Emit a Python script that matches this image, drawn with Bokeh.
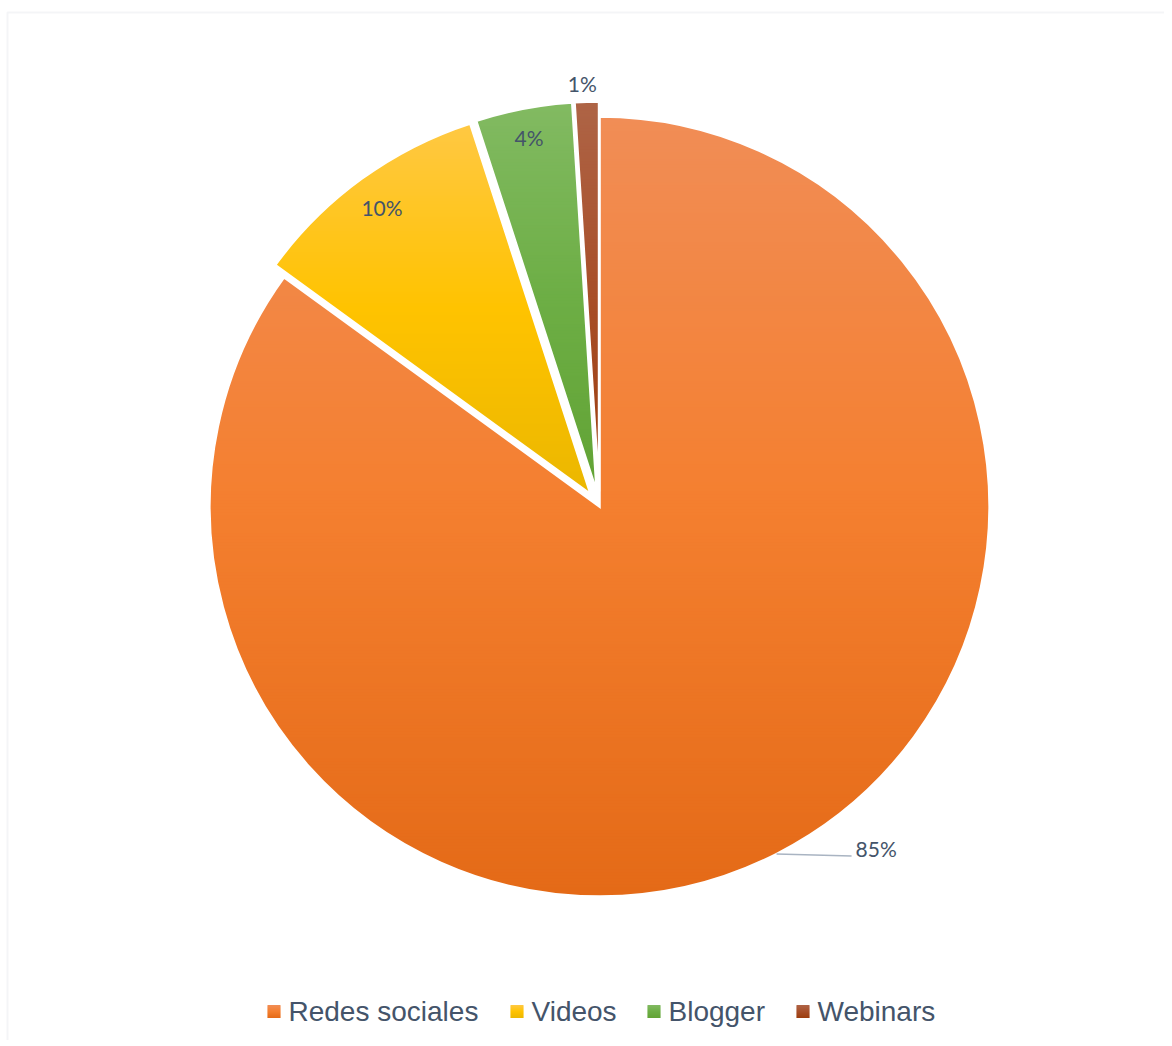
import numpy as np
from bokeh.plotting import figure
from bokeh.models import Range1d, BoxAnnotation
from bokeh.core.properties import value
from bokeh.embed import file_html
from bokeh.resources import INLINE

# ---------------- data ----------------
categories = ["Redes sociales", "Videos", "Blogger", "Webinars"]
shares = [85, 10, 4, 1]
labels = ["85%", "10%", "4%", "1%"]

# gradient colours (top, middle, bottom) per slice
colors_top = ["#F18D56", "#FFC843", "#82BA62", "#AE6446"]
colors_mid = ["#F47F2F", "#FFC300", "#6DAE45", "#A84F29"]
colors_bot = ["#E46A17", "#EBB700", "#62A335", "#9C3D0D"]

# ---------------- layout / style ----------------
W, H = 1164, 1040
CX, CY, R = 599, H - 506, 390
explode = [0, 15, 15, 15]
label_r = [None, 355, 361, 408]
label_dx = [0, 0, 0, -4]
TEXT = "#44546A"
LEGEND_Y = H - 1011
legend_x = [267, 510, 647, 796]

p = figure(width=W, height=H, output_backend="svg", toolbar_location=None,
           x_range=Range1d(0, W), y_range=Range1d(0, H), min_border=0)
p.axis.visible = False
p.grid.visible = False
p.outline_line_color = None
p.background_fill_color = "white"
p.border_fill_color = "white"

p.add_layout(BoxAnnotation(left=7, right=5000, top=H - 12, bottom=-5000,
                           fill_alpha=0, line_color="#D9DDE3", line_width=2))


def hex2rgb(h):
    h = h.lstrip("#")
    return np.array([int(h[i:i + 2], 16) for i in (0, 2, 4)], dtype=float)


def grad(f, top, mid, bot):
    t, m, b = hex2rgb(top), hex2rgb(mid), hex2rgb(bot)
    if f < 0.5:
        c = t + (m - t) * (f / 0.5)
    else:
        c = m + (b - m) * ((f - 0.5) / 0.5)
    return "#%02x%02x%02x" % tuple(int(round(v)) for v in c)


def clip(pts, y0, keep_above):
    out = []
    n = len(pts)
    for i in range(n):
        a = pts[i]
        b = pts[(i + 1) % n]
        ina = a[1] >= y0 if keep_above else a[1] <= y0
        inb = b[1] >= y0 if keep_above else b[1] <= y0
        if inb:
            if not ina:
                t = (y0 - a[1]) / (b[1] - a[1])
                out.append((a[0] + t * (b[0] - a[0]), y0))
            out.append(b)
        elif ina:
            t = (y0 - a[1]) / (b[1] - a[1])
            out.append((a[0] + t * (b[0] - a[0]), y0))
    return out


def gradient_patches(pts, top, mid, bot, band=3.0, overlap=0.8):
    ys = [q[1] for q in pts]
    ymin, ymax = min(ys), max(ys)
    xs_out, ys_out, cols = [], [], []
    y = ymax
    while y > ymin:
        y1 = max(y - band, ymin)
        poly = clip(clip(pts, max(y1 - overlap, ymin), True), y, False)
        if len(poly) >= 3:
            f = (ymax - (y + y1) / 2) / (ymax - ymin)
            xs_out.append([q[0] for q in poly])
            ys_out.append([q[1] for q in poly])
            cols.append(grad(f, top, mid, bot))
        y = y1
    return xs_out, ys_out, cols


total = float(sum(shares))
cum = np.concatenate([[0], np.cumsum(shares)]) / total * 2 * np.pi
all_xs, all_ys, all_cols = [], [], []
centers = []
for i, s in enumerate(shares):
    a0, a1 = cum[i], cum[i + 1]
    mid = (a0 + a1) / 2
    cx = CX + explode[i] * np.sin(mid)
    cy = CY + explode[i] * np.cos(mid)
    centers.append((cx, cy, a0, a1, mid))
    n = max(int(np.degrees(a1 - a0)), 2) * 2
    ts = np.linspace(a0, a1, n)
    pts = [(cx, cy)] + [(cx + R * np.sin(t), cy + R * np.cos(t)) for t in ts]
    xs, ys, cols = gradient_patches(pts, colors_top[i], colors_mid[i], colors_bot[i])
    all_xs += xs
    all_ys += ys
    all_cols += cols

p.patches(all_xs, all_ys, fill_color=all_cols, line_color=None)

# white slice borders
p.wedge(x=[c[0] for c in centers], y=[c[1] for c in centers], radius=R,
        start_angle=[np.pi / 2 - c[2] for c in centers],
        end_angle=[np.pi / 2 - c[3] for c in centers],
        direction="clock", fill_color=None, line_color="white", line_width=2.5,
        line_join="miter")

# data labels
for i, c in enumerate(centers):
    cx, cy, a0, a1, mid = c
    if label_r[i] is None:
        ax = cx + R * np.sin(mid)
        ay = cy + R * np.cos(mid)
        p.line([ax, ax + 75], [ay, ay - 2], line_color="#A9B4C2", line_width=1.5)
        p.text(x=[ax + 79], y=[ay + 5], text=[labels[i]], text_font=value("Lato"),
               text_font_size="21px", text_color=TEXT, text_align="left",
               text_baseline="middle")
    else:
        lx = cx + label_r[i] * np.sin(mid) + label_dx[i]
        ly = cy + label_r[i] * np.cos(mid)
        p.text(x=[lx], y=[ly], text=[labels[i]], text_font=value("Lato"),
               text_font_size="21px", text_color=TEXT, text_align="center",
               text_baseline="middle")

# legend
lg_xs, lg_ys, lg_cols = [], [], []
for i, name in enumerate(categories):
    x0 = legend_x[i]
    sq = [(x0, LEGEND_Y + 6.5), (x0 + 13, LEGEND_Y + 6.5),
          (x0 + 13, LEGEND_Y - 6.5), (x0, LEGEND_Y - 6.5)]
    xs, ys, cols = gradient_patches(sq, colors_top[i], colors_mid[i], colors_bot[i],
                                    band=1.0, overlap=0.3)
    lg_xs += xs
    lg_ys += ys
    lg_cols += cols
p.patches(lg_xs, lg_ys, fill_color=lg_cols, line_color=None)
p.text(x=[x + 21 for x in legend_x], y=[LEGEND_Y] * len(categories), text=categories,
       text_font=value("Liberation Sans"), text_font_size="28px", text_color=TEXT,
       text_align="left", text_baseline="middle")

open("out.html", "w").write(file_html(p, INLINE))
